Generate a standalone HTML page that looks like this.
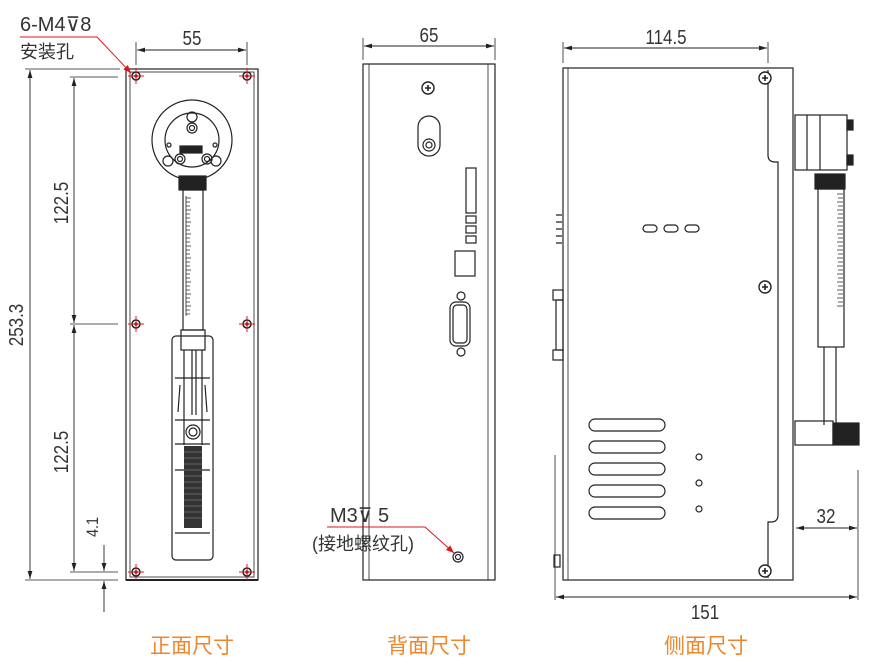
<!DOCTYPE html>
<html><head><meta charset="utf-8"><style>
html,body{margin:0;padding:0;background:#fff;}
svg{display:block;font-family:"Liberation Sans","Noto Sans CJK SC",sans-serif;}
.d{font-size:20px;fill:#333;}
.t{font-size:21px;fill:#f0862a;}
</style></head><body>
<svg width="870" height="667" viewBox="0 0 870 667" xmlns="http://www.w3.org/2000/svg">
<defs>
<marker id="a" viewBox="0 0 10 10" refX="10" refY="5" markerWidth="9" markerHeight="9" orient="auto-start-reverse"><path d="M0,2 L10,5 L0,8 z" fill="#222"/></marker>
<marker id="r" viewBox="0 0 10 10" refX="10" refY="5" markerWidth="8" markerHeight="8" orient="auto"><path d="M0,1 L10,5 L0,9 z" fill="#e0141e"/></marker>
<g id="hole"><circle r="4" fill="none" stroke="#222" stroke-width="1.5"/><circle r="1.6" fill="#222"/><path d="M-8,0H8M0,-8V8" stroke="#e0141e" stroke-width="1"/></g>
<g id="scr"><circle r="6" fill="#fff" stroke="#222" stroke-width="1.4"/><path d="M-3,0H3M0,-3V3" stroke="#222" stroke-width="1.6"/></g>
</defs>
<g stroke="#222" fill="none" stroke-width="1.2">
<!-- FRONT VIEW -->
<rect x="126" y="69" width="132" height="511"/>
<rect x="130" y="72" width="124" height="505" stroke-width="0.8"/>
<line x1="126" y1="580" x2="258" y2="580" stroke-width="2"/>
<line x1="136" y1="65" x2="136" y2="42" stroke-width="0.8"/>
<line x1="247" y1="65" x2="247" y2="42" stroke-width="0.8"/>
<line x1="137" y1="50" x2="246" y2="50" stroke-width="0.9" marker-start="url(#a)" marker-end="url(#a)"/>
<line x1="25" y1="69" x2="120" y2="69" stroke-width="0.8"/>
<line x1="70" y1="77" x2="118" y2="77" stroke-width="0.8"/>
<line x1="70" y1="324" x2="118" y2="324" stroke-width="0.8"/>
<line x1="70" y1="572" x2="118" y2="572" stroke-width="0.8"/>
<line x1="25" y1="580" x2="118" y2="580" stroke-width="0.8"/>
<line x1="30" y1="70" x2="30" y2="579" stroke-width="0.9" marker-start="url(#a)" marker-end="url(#a)"/>
<line x1="74" y1="78" x2="74" y2="323" stroke-width="0.9" marker-start="url(#a)" marker-end="url(#a)"/>
<line x1="74" y1="325" x2="74" y2="571" stroke-width="0.9" marker-start="url(#a)" marker-end="url(#a)"/>
<line x1="104" y1="545" x2="104" y2="571" stroke-width="0.9" marker-end="url(#a)"/>
<line x1="104" y1="612" x2="104" y2="581" stroke-width="0.9" marker-end="url(#a)"/>
<circle cx="192" cy="140" r="40"/>
<circle cx="192" cy="140" r="27"/>
<circle cx="192" cy="117" r="5"/><circle cx="192" cy="128" r="5"/><circle cx="192" cy="128" r="2.5"/>
<circle cx="168" cy="161" r="5"/><circle cx="216" cy="161" r="5"/>
<circle cx="180" cy="159" r="5"/><circle cx="180" cy="159" r="2.5"/>
<circle cx="207" cy="159" r="5"/><circle cx="207" cy="159" r="2.5"/>
<circle cx="169" cy="145" r="2"/><circle cx="215" cy="145" r="2"/>
<rect x="180" y="146" width="22" height="7" fill="#222"/>
<rect x="179" y="176" width="27" height="14" fill="#222"/>
<rect x="183" y="190" width="20" height="140"/>
<path d="M186,196V316" stroke-width="0.8"/>
<path d="M186,198h5M186,202h4M186,206h4M186,210h5M186,214h4M186,218h4M186,222h5M186,226h4M186,230h4M186,234h5M186,238h4M186,242h4M186,246h5M186,250h4M186,254h4M186,258h5M186,262h4M186,266h4M186,270h5M186,274h4M186,278h4M186,282h5M186,286h4M186,290h4M186,294h5M186,298h4M186,302h4M186,306h5M186,310h4M186,314h4" stroke-width="0.8"/>
<rect x="172" y="336" width="41" height="224" rx="4"/>
<rect x="181" y="330" width="24" height="20"/>
<path d="M184,350V445 M202,350V445 M192,350V415 M196,350V415"/>
<path d="M175,378H210 M175,420H210 M175,444H210 M175,470H210 M175,533H210"/>
<path d="M180,385L178,412 M205,385L207,412"/>
<circle cx="193" cy="432" r="7"/><circle cx="193" cy="432" r="4"/>
<rect x="184" y="446" width="18" height="82" fill="#333" stroke="none"/>
<path d="M184,452h18M184,458h18M184,464h18M184,470h18M184,476h18M184,482h18M184,488h18M184,494h18M184,500h18M184,506h18M184,512h18M184,518h18" stroke="#777" stroke-width="0.7"/>
<!-- BACK VIEW -->
<rect x="363" y="64" width="132" height="516"/>
<path d="M369,64V580 M488,64V580" stroke-width="0.8"/>
<line x1="363" y1="60" x2="363" y2="38" stroke-width="0.8"/>
<line x1="495" y1="60" x2="495" y2="38" stroke-width="0.8"/>
<line x1="364" y1="46" x2="494" y2="46" stroke-width="0.9" marker-start="url(#a)" marker-end="url(#a)"/>
<use href="#scr" x="428" y="88"/>
<rect x="418" y="116" width="22" height="40" rx="11"/>
<circle cx="429" cy="145" r="6"/><circle cx="429" cy="145" r="3"/>
<rect x="466" y="168" width="10" height="45"/>
<rect x="466" y="216" width="10" height="7"/><rect x="466" y="226" width="10" height="7"/><rect x="466" y="236" width="10" height="7"/>
<rect x="455" y="251" width="20" height="25"/>
<circle cx="461" cy="296" r="4"/><circle cx="461" cy="352" r="4"/>
<rect x="450" y="302" width="20" height="44" rx="6"/>
<rect x="453" y="305" width="14" height="38" rx="4"/>
<circle cx="458" cy="557" r="5"/><circle cx="458" cy="557" r="2.5"/>
<!-- SIDE VIEW -->
<rect x="563" y="68" width="230" height="512"/>
<path d="M568,68V580" stroke-width="0.8"/>
<path d="M768,70V155 Q768,162 775,162 H778 V515 Q778,522 771,522 H768 V578"/>
<line x1="563" y1="63" x2="563" y2="42" stroke-width="0.8"/>
<line x1="768" y1="63" x2="768" y2="42" stroke-width="0.8"/>
<line x1="564" y1="48" x2="767" y2="48" stroke-width="0.9" marker-start="url(#a)" marker-end="url(#a)"/>
<line x1="555" y1="455" x2="555" y2="600" stroke-width="0.8"/>
<line x1="858" y1="470" x2="858" y2="600" stroke-width="0.8"/>
<line x1="556" y1="597" x2="857" y2="597" stroke-width="0.9" marker-start="url(#a)" marker-end="url(#a)"/>
<line x1="796" y1="528" x2="857" y2="528" stroke-width="0.9" marker-start="url(#a)" marker-end="url(#a)"/>
<use href="#scr" x="765" y="78"/><use href="#scr" x="765" y="287"/><use href="#scr" x="765" y="571"/>
<rect x="643" y="225" width="14" height="7" rx="3.5"/><rect x="664" y="225" width="14" height="7" rx="3.5"/><rect x="685" y="225" width="14" height="7" rx="3.5"/>
<rect x="589" y="419" width="76" height="12" rx="6"/><rect x="589" y="441" width="76" height="12" rx="6"/><rect x="589" y="463" width="76" height="12" rx="6"/><rect x="589" y="485" width="76" height="12" rx="6"/><rect x="589" y="507" width="76" height="12" rx="6"/>
<circle cx="699" cy="457" r="3"/><circle cx="699" cy="483" r="3"/><circle cx="699" cy="509" r="3"/>
<path d="M556,215H562 M556,222H562 M556,229H562 M556,236H562 M556,243H562"/>
<rect x="553" y="290" width="10" height="10"/><rect x="556" y="300" width="7" height="50"/><rect x="553" y="350" width="10" height="10"/>
<rect x="554" y="555" width="6" height="12"/>
<rect x="795" y="115" width="52" height="55"/>
<path d="M807,115V170 M820,115V170"/>
<rect x="847" y="120" width="6" height="10" fill="#222"/><rect x="847" y="155" width="6" height="10" fill="#222"/>
<rect x="815" y="174" width="30" height="15" fill="#222"/>
<rect x="818" y="189" width="26" height="158"/>
<path d="M837,194h6M838,198h5M837,202h6M838,206h5M837,210h6M838,214h5M837,218h6M838,222h5M837,226h6M838,230h5M837,234h6M838,238h5M837,242h6M838,246h5M837,250h6M838,254h5M837,258h6M838,262h5M837,266h6M838,270h5M837,274h6M838,278h5M837,282h6M838,286h5M837,290h6M838,294h5M837,298h6M838,302h5M837,306h6" stroke-width="0.8"/>
<path d="M824,347V425 M836,347V425"/>
<rect x="795" y="421" width="38" height="24"/>
<rect x="833" y="423" width="26" height="22" fill="#222"/>
</g>
<text x="20" y="31" class="d">6-M4⊽8</text>
<text x="20" y="58" class="d" style="font-size:18px">安装孔</text>
<path d="M20,37H97 L131,73" stroke="#e0141e" stroke-width="1" fill="none" marker-end="url(#r)"/>
<g fill="#222"><use href="#hole" x="136" y="76"/><use href="#hole" x="247" y="76"/><use href="#hole" x="136" y="324"/><use href="#hole" x="247" y="324"/><use href="#hole" x="136" y="572"/><use href="#hole" x="247" y="572"/></g>
<g transform="translate(192,45) scale(0.85,1)"><text class="d" text-anchor="middle">55</text></g>
<text class="d" text-anchor="middle" transform="translate(23,325) rotate(-90) scale(0.85,1)">253.3</text>
<text class="d" text-anchor="middle" transform="translate(68,203) rotate(-90) scale(0.85,1)">122.5</text>
<text class="d" text-anchor="middle" transform="translate(68,452) rotate(-90) scale(0.85,1)">122.5</text>
<text class="d" text-anchor="middle" style="font-size:17px" transform="translate(98,527) rotate(-90) scale(0.85,1)">4.1</text>
<g transform="translate(429,42) scale(0.85,1)"><text class="d" text-anchor="middle">65</text></g>
<text x="330" y="522" class="d">M3⊽ 5</text>
<text x="312" y="550" class="d" style="font-size:18px">(接地螺纹孔)</text>
<path d="M327,527H425 L454,553" stroke="#e0141e" stroke-width="1" fill="none" marker-end="url(#r)"/>
<g transform="translate(666,44) scale(0.85,1)"><text class="d" text-anchor="middle">114.5</text></g>
<g transform="translate(826,523) scale(0.85,1)"><text class="d" text-anchor="middle">32</text></g>
<g transform="translate(705,619) scale(0.85,1)"><text class="d" text-anchor="middle">151</text></g>
<text x="192" y="653" class="t" text-anchor="middle">正面尺寸</text>
<text x="429" y="653" class="t" text-anchor="middle">背面尺寸</text>
<text x="706" y="653" class="t" text-anchor="middle">侧面尺寸</text>
</svg>
</body></html>
